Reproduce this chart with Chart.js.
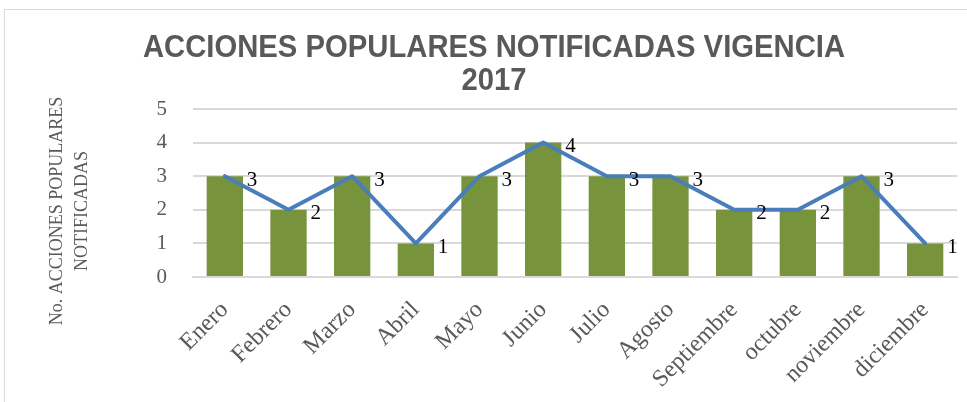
<!DOCTYPE html>
<html>
<head>
<meta charset="utf-8">
<script src="https://cdn.jsdelivr.net/npm/chart.js@4"></script>
<style>
    body { margin: 0; background: #fff; }
    #marco { position: absolute; left: 4px; top: 9px; width: 1000px; height: 1000px; border: 1px solid #D9D9D9; }
    #wrap { position: absolute; left: 0; top: 0; width: 967px; height: 402px; }
</style>
</head>
<body>
<div id="marco"></div>
<div id="wrap"><canvas id="accionesChart" width="967" height="402"></canvas></div>
<script>
// datos
const meses = ["Enero", "Febrero", "Marzo", "Abril", "Mayo", "Junio", "Julio",
    "Agosto", "Septiembre", "octubre", "noviembre", "diciembre"];
const accionesBarras = [3, 2, 3, 1, 3, 4, 3, 3, 2, 2, 3, 1];
const accionesLinea = [3, 2, 3, 1, 3, 4, 3, 3, 2, 2, 3, 1];
const tituloLineas = ["ACCIONES POPULARES NOTIFICADAS VIGENCIA", "2017"];
const tituloEje = ["No. ACCIONES POPULARES", "NOTIFICADAS"];

const serif = "'Liberation Serif', 'DejaVu Serif', serif";

// titulo, titulo del eje y etiquetas de la linea
const textosPlugin = {
    id: "textos",
    afterDraw(chart) {
        const ctx = chart.ctx;

        ctx.save();
        ctx.fillStyle = "#595959";
        ctx.textAlign = "center";
        ctx.textBaseline = "middle";
        ctx.font = "bold 31px 'Liberation Sans', sans-serif";
        const ancho = ctx.measureText(tituloLineas[0]).width;
        const escala = Math.min(1, 702 / ancho);
        tituloLineas.forEach((linea, i) => {
            ctx.save();
            ctx.translate(494, 48 + i * 33);
            ctx.scale(escala, 1);
            ctx.fillText(linea, 0, 0);
            ctx.restore();
        });
        ctx.restore();

        ctx.save();
        ctx.fillStyle = "#595959";
        ctx.font = "18px " + serif;
        ctx.textAlign = "center";
        ctx.textBaseline = "middle";
        tituloEje.forEach((linea, i) => {
            ctx.save();
            ctx.translate(57 + i * 25, 211);
            ctx.rotate(-Math.PI / 2);
            ctx.fillText(linea, 0, 0);
            ctx.restore();
        });
        ctx.restore();

        const meta = chart.getDatasetMeta(1);
        ctx.save();
        ctx.fillStyle = "#000";
        ctx.font = "21px " + serif;
        ctx.textAlign = "left";
        ctx.textBaseline = "middle";
        meta.data.forEach((pt, i) => {
            ctx.fillText(String(accionesLinea[i]), pt.x + 22, pt.y + 4);
        });
        ctx.restore();
    }
};

const ctx = document.getElementById("accionesChart").getContext("2d");
new Chart(ctx, {
    data: {
        labels: meses,
        datasets: [{
            type: "bar",
            data: accionesBarras,
            backgroundColor: "#77933C",
            categoryPercentage: 1,
            barPercentage: 0.57,
            order: 2
        }, {
            type: "line",
            data: accionesLinea,
            borderColor: "#4A7EBB",
            borderWidth: 4,
            borderJoinStyle: "round",
            borderCapStyle: "round",
            pointRadius: 0,
            tension: 0,
            order: 1
        }]
    },
    options: {
        responsive: false,
        animation: false,
        layout: { padding: { top: 109, right: 10, left: 0, bottom: 0 } },
        plugins: {
            legend: { display: false },
            title: { display: false },
            tooltip: { enabled: false }
        },
        scales: {
            x: {
                grid: { display: false, drawTicks: false },
                border: { display: true, color: "#D9D9D9", width: 2 },
                ticks: {
                    color: "#595959",
                    font: { family: serif, size: 24 },
                    minRotation: 45,
                    maxRotation: 45,
                    padding: 19
                },
                afterFit(scale) { scale.height = 125; }
            },
            y: {
                min: 0,
                max: 5,
                grid: { color: "#D9D9D9", lineWidth: 2, drawTicks: false },
                border: { display: false },
                ticks: {
                    stepSize: 1,
                    color: "#595959",
                    font: { family: serif, size: 21 },
                    padding: 26
                },
                afterFit(scale) { scale.width = 193; }
            }
        }
    },
    plugins: [textosPlugin]
});
</script>
</body>
</html>
